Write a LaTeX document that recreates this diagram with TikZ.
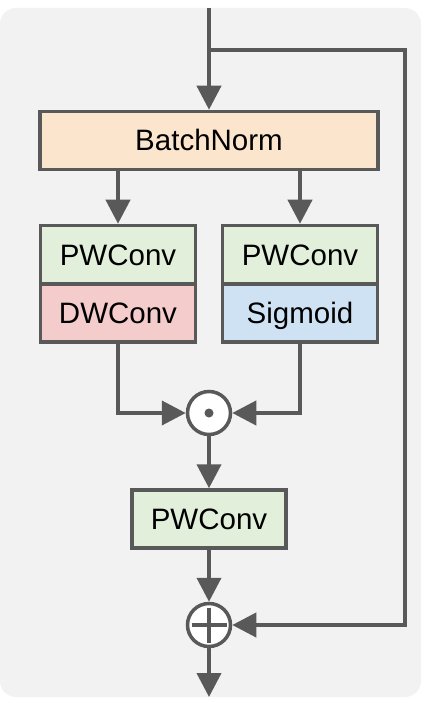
\documentclass[tikz,border=0pt]{standalone}
\usepackage{fontspec}
\setmainfont{Liberation Sans}
\usepackage{tikz}
\usetikzlibrary{arrows.meta}

\definecolor{trait}{HTML}{595959}
\definecolor{fond}{HTML}{F2F2F2}
\definecolor{orangeclair}{HTML}{FCE5CD}
\definecolor{vertclair}{HTML}{E2EFDA}
\definecolor{rougeclair}{HTML}{F4CCCC}
\definecolor{bleuclair}{HTML}{CFE2F3}

\begin{document}
\begin{tikzpicture}[
    x=1pt, y=-1pt,
    every node/.style={font=\fontsize{29.5}{34}\selectfont},
    bloc/.style={draw=trait, line width=3.5pt, minimum height=58pt, inner sep=0pt,
                 text height=21pt, text depth=0pt},
    operation/.style={draw=trait, circle, line width=3.5pt, fill=white, minimum size=43pt, inner sep=0pt},
    fleche/.style={-{Triangle[length=24pt, width=24pt]}, line width=4pt, draw=trait},
    lien/.style={line width=4pt, draw=trait}
]
\useasboundingbox (0,0) rectangle (432,703);

% Fond
\fill[fond, rounded corners=16pt] (0,8) rectangle (421,697);

% Blocs
\node[bloc, fill=orangeclair, minimum width=338pt] (bn) at (209,140.5) {BatchNorm};
\node[bloc, fill=vertclair, minimum width=155pt] (pwa) at (118,254.5) {PWConv};
\node[bloc, fill=rougeclair, minimum width=155pt] (dw) at (118,313) {DWConv};
\node[bloc, fill=vertclair, minimum width=155pt] (pwb) at (300,254.5) {PWConv};
\node[bloc, fill=bleuclair, minimum width=155pt] (sig) at (300,313) {Sigmoid};
\node[bloc, fill=vertclair, minimum width=154pt] (pwc) at (209,519) {PWConv};

% Operations
\node[operation] (mul) at (209,413) {};
\node[operation] (add) at (209,625) {};
\fill[trait] (mul.center) circle (4.5pt);
\draw[line width=3.5pt, trait] (add.center) ++(-17.5,0) -- ++(35,0);
\draw[line width=3.5pt, trait] (add.center) ++(0,-17.5) -- ++(0,35);

% Entree, sortie et residu
\coordinate (entree) at (209,8);
\coordinate (branche) at (209,50);
\coordinate (coinhaut) at (405,50);
\coordinate (coinbas) at (405,625);
\coordinate (sortie) at (209,697);

% Connexions
\draw[fleche] (entree) -- (bn);
\draw[fleche] (branche) -- (coinhaut) -- (coinbas) -- (add);
\draw[fleche] (bn.south -| pwa) -- (pwa);
\draw[fleche] (bn.south -| pwb) -- (pwb);
\draw[fleche] (dw) |- (mul);
\draw[fleche] (sig) |- (mul);
\draw[fleche] (mul) -- (pwc);
\draw[fleche] (pwc) -- (add);
\draw[fleche] (add) -- (sortie);

\end{tikzpicture}
\end{document}
